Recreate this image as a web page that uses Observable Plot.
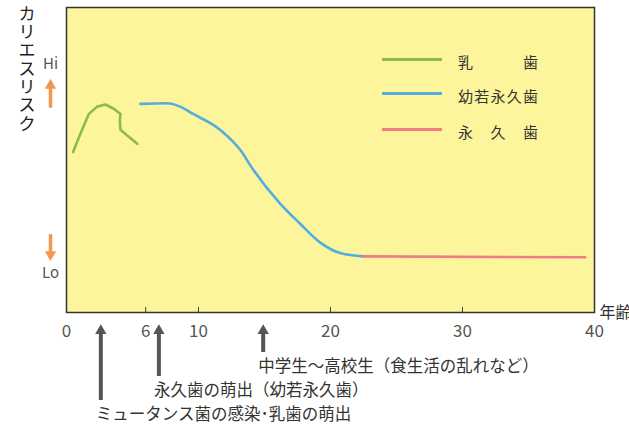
<!DOCTYPE html>
<html><head><meta charset="utf-8">
<script src="https://cdn.jsdelivr.net/npm/d3@7"></script>
<script src="https://cdn.jsdelivr.net/npm/@observablehq/plot@0.6"></script>
<style>
html,body{margin:0;padding:0;background:#fff;}
#wrap{position:relative;width:629px;height:425px;overflow:hidden;font-family:'Noto Sans CJK JP',sans-serif;}
.lg-line{position:absolute;left:382px;width:60px;height:3px;}
.lg-text{position:absolute;left:458px;width:80px;display:flex;justify-content:space-between;font-size:15px;line-height:18px;color:#333;}
</style>
</head><body>
<div id="wrap"></div>
<script>
// ---- data ----
const primaryAge  = [0.5, 1.06, 1.69, 2.33, 2.95, 3.58, 4.09, 4.04, 4.09, 4.6, 5.36];
const primaryRisk = [52.6, 58.7, 65.1, 67.5, 68.2, 66.8, 65.1, 63.0, 59.9, 58.0, 55.3];
const youngAge    = [5.6, 7.6, 8.6, 9.6, 11.7, 13.2, 14.1, 16.2, 17.7, 19.2, 20.8, 22.5];
const youngRisk   = [68.4, 68.6, 67.5, 65.1, 59.7, 53.1, 47.1, 35.6, 29.1, 23.0, 19.4, 18.4];
const permAge     = [22.5, 39.3];
const permRisk    = [18.4, 18.1];
const seriesNames = ["乳　　歯", "幼若永久歯", "永　久　歯"];
const seriesColors = ["#8dbb48", "#52aee0", "#f07c86"];
const xTicks = [0, 6, 10, 20, 30, 40];
const innerTicks = [6, 10, 20, 30];
const riskLabels = ["Hi", "Lo"];
const riskLabelY = [81.5, 13.0];
const riskArrowFrom = [67.0, 25.5];
const riskArrowTo = [76.5, 17.0];
const annAges = [2.6, 7.0, 14.9];
const annLabels = ["ミュータンス菌の感染･乳歯の萌出", "永久歯の萌出（幼若永久歯）", "中学生～高校生（食生活の乱れなど）"];
const annRows = [3, 2, 1];
const yTitle = "カリエスリスク";
const xTitle = "年齢";

// ---- layout ----
const W = 629, H = 425, mt = 7, mb = 113, ml = 66, mr = 35;
const unit = (H - mt - mb) / 100; // px per risk unit
const below = px => -px / unit;

const mk = (a, r) => a.map((x, i) => ({age: x, risk: r[i]}));
const primary = mk(primaryAge, primaryRisk);
const young = mk(youngAge, youngRisk);
const perm = mk(permAge, permRisk);

const rows = riskLabels.map((l, i) => ({label: l, y: riskLabelY[i], y1: riskArrowFrom[i], y2: riskArrowTo[i], up: riskArrowTo[i] > riskArrowFrom[i]}));
const anns = annAges.map((a, i) => ({age: a, label: annLabels[i], row: annRows[i]}));
// arrow tips 12px below frame, label rows 24px apart
const annTip = below(12);
const annText = r => below(54 + (r - 1) * 24);
const annTail = r => below(54 + (r - 1) * 24 - 14);

const ff = "'Noto Sans CJK JP', sans-serif";
const gray = "#555";
const orange = "#f29652";

const plot = Plot.plot({
  width: W, height: H,
  marginTop: mt, marginBottom: mb, marginLeft: ml, marginRight: mr,
  x: {domain: [0, 40], label: null},
  y: {domain: [0, 100], axis: null},
  style: {fontFamily: ff, background: "transparent", overflow: "visible"},
  marks: [
    Plot.frame({fill: "#fdf59b", stroke: "#333", strokeWidth: 1.5}),
    Plot.ruleX(innerTicks, {y1: 0, y2: 5 / unit, stroke: "#444", strokeWidth: 1}),
    Plot.axisX(xTicks, {tickSize: 0, tickPadding: 12, fontSize: 17, color: gray, label: null, tickFormat: d => String(d)}),
    Plot.text([xTitle], {x: 40, y: 0, dx: 5, textAnchor: "start", fontSize: 16, fill: "#333"}),
    Plot.text([yTitle.split("").join("\n")], {frameAnchor: "top-left", dx: -48, dy: -1, lineAnchor: "top", lineHeight: 1.08, fontSize: 17, fill: "#222"}),
    // Hi / Lo labels + arrows
    Plot.text(rows, {x: 0, y: "y", dx: -16, text: "label", fontSize: 15, fill: gray}),
    Plot.ruleX(rows, {x: 0, dx: -16, y1: "y1", y2: d => d.y2 + (d.up ? -4 : 4) / unit, stroke: orange, strokeWidth: 3.5}),
    Plot.dot(rows.filter(d => d.up), {x: 0, dx: -16, y: "y2", dy: 6.2, r: 4.2, symbol: "triangle", fill: orange, stroke: "none"}),
    Plot.dot(rows.filter(d => !d.up), {x: 0, dx: -16, y: "y2", dy: -6.2, r: 4.2, symbol: "triangle", rotate: 180, fill: orange, stroke: "none"}),
    // curves
    Plot.line(primary, {x: "age", y: "risk", stroke: seriesColors[0], strokeWidth: 2.6, curve: "linear"}),
    Plot.line(young, {x: "age", y: "risk", stroke: seriesColors[1], strokeWidth: 2.6, curve: "monotone-x"}),
    Plot.line(perm, {x: "age", y: "risk", stroke: seriesColors[2], strokeWidth: 2.6}),
    // annotations
    Plot.ruleX(anns, {x: "age", y1: d => annTail(d.row), y2: annTip - 4 / unit, stroke: gray, strokeWidth: 4}),
    Plot.dot(anns, {x: "age", y: annTip, dy: 6.2, r: 4.2, symbol: "triangle", fill: gray, stroke: "none"}),
    Plot.text(anns, {x: "age", y: d => annText(d.row), dx: -5, text: "label", textAnchor: "start", fontSize: 16.5, fill: "#333"})
  ]
});
const wrap = document.getElementById("wrap");
wrap.appendChild(plot);

// legend overlay
const lgTop = [59, 93, 129];
seriesNames.forEach((name, i) => {
  const line = document.createElement("div");
  line.className = "lg-line";
  line.style.top = (lgTop[i] - 1.5) + "px";
  line.style.background = seriesColors[i];
  wrap.appendChild(line);
  const t = document.createElement("div");
  t.className = "lg-text";
  t.style.top = (lgTop[i] + 2.5 - 9) + "px";
  name.replace(/　/g, "").split("").forEach(c => { const s = document.createElement("span"); s.textContent = c; t.appendChild(s); });
  wrap.appendChild(t);
});
</script>
</body></html>
